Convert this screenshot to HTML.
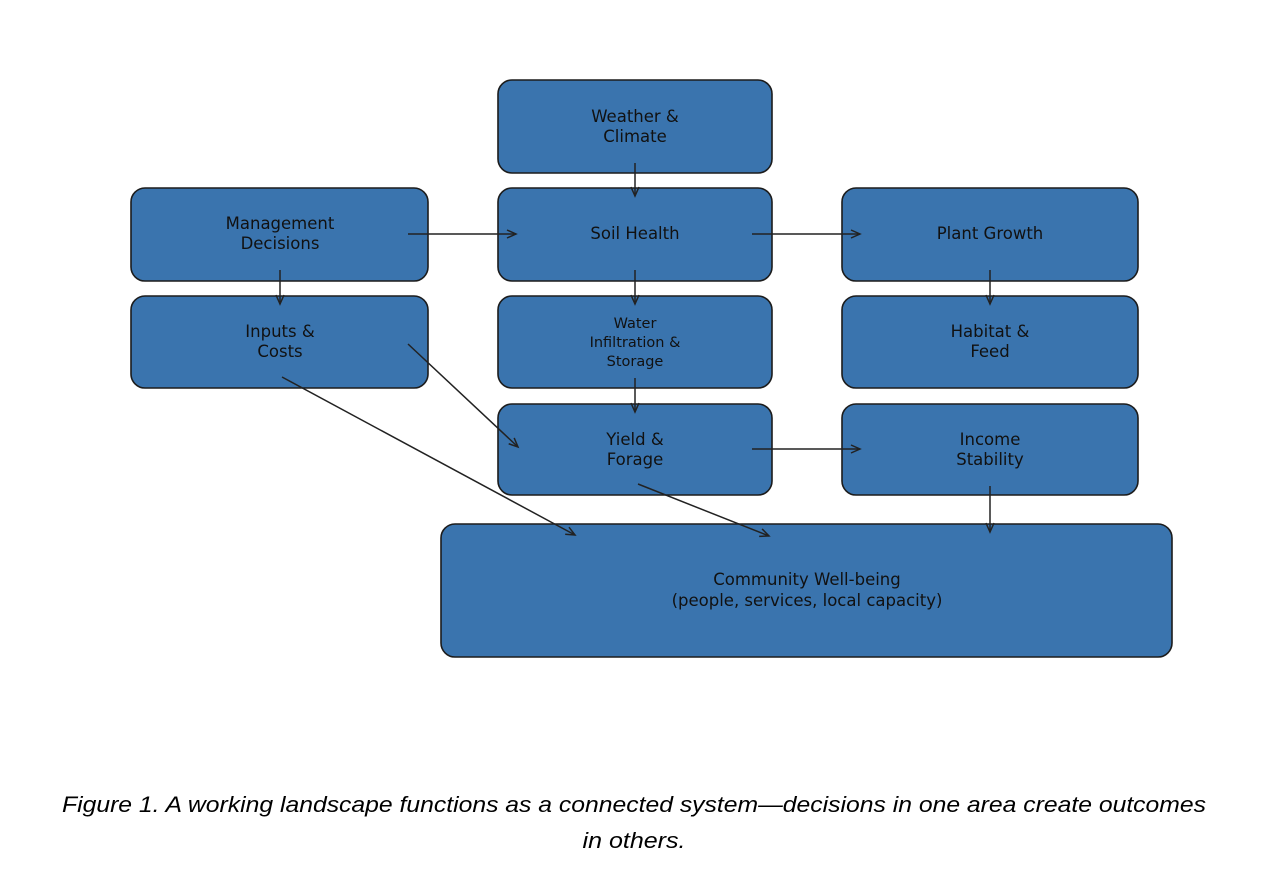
<!DOCTYPE html>
<html><head><meta charset="utf-8"><style>
html,body{margin:0;padding:0;background:#fff;width:1262px;height:894px;overflow:hidden}
svg{display:block}
.b{fill:#3a74ae;stroke:#1c1c1c;stroke-width:1.6}
.t{font-family:"DejaVu Sans",sans-serif;font-size:16.5px;fill:#111;text-anchor:middle}
.s{font-size:14.5px}
.a{stroke:#222;stroke-width:1.5;fill:none;marker-end:url(#m)}
.c{font-family:"Liberation Sans",sans-serif;font-style:italic;font-size:22px;fill:#000;text-anchor:middle}
</style></head><body>
<svg width="1262" height="894" xmlns="http://www.w3.org/2000/svg">
<defs><marker id="m" markerWidth="12" markerHeight="12" refX="10" refY="5" orient="auto" markerUnits="userSpaceOnUse"><path d="M1,1 L10,5 L1,9" fill="none" stroke="#222" stroke-width="1.5"/></marker></defs>
<rect class="b" x="498" y="80" width="274" height="93" rx="14"/>
<rect class="b" x="131" y="188" width="297" height="93" rx="14"/>
<rect class="b" x="498" y="188" width="274" height="93" rx="14"/>
<rect class="b" x="842" y="188" width="296" height="93" rx="14"/>
<rect class="b" x="131" y="296" width="297" height="92" rx="14"/>
<rect class="b" x="498" y="296" width="274" height="92" rx="14"/>
<rect class="b" x="842" y="296" width="296" height="92" rx="14"/>
<rect class="b" x="498" y="404" width="274" height="91" rx="14"/>
<rect class="b" x="842" y="404" width="296" height="91" rx="14"/>
<rect class="b" x="441" y="524" width="731" height="133" rx="14"/>
<text class="t" x="635" y="122">Weather &amp;</text><text class="t" x="635" y="142">Climate</text>
<text class="t" x="280" y="229">Management</text><text class="t" x="280" y="249">Decisions</text>
<text class="t" x="635" y="239">Soil Health</text>
<text class="t" x="990" y="239">Plant Growth</text>
<text class="t" x="280" y="337">Inputs &amp;</text><text class="t" x="280" y="357">Costs</text>
<text class="t s" x="635" y="328">Water</text><text class="t s" x="635" y="347">Infiltration &amp;</text><text class="t s" x="635" y="366">Storage</text>
<text class="t" x="990" y="337">Habitat &amp;</text><text class="t" x="990" y="357">Feed</text>
<text class="t" x="635" y="445">Yield &amp;</text><text class="t" x="635" y="465">Forage</text>
<text class="t" x="990" y="445">Income</text><text class="t" x="990" y="465">Stability</text>
<text class="t" x="807" y="585">Community Well-being</text><text class="t" x="807" y="606">(people, services, local capacity)</text>
<line class="a" x1="635" y1="163" x2="635" y2="196"/>
<line class="a" x1="408" y1="234" x2="516" y2="234"/>
<line class="a" x1="752" y1="234" x2="860" y2="234"/>
<line class="a" x1="280" y1="270" x2="280" y2="304"/>
<line class="a" x1="635" y1="270" x2="635" y2="304"/>
<line class="a" x1="990" y1="270" x2="990" y2="304"/>
<line class="a" x1="635" y1="378" x2="635" y2="412"/>
<line class="a" x1="408" y1="344" x2="518" y2="447"/>
<line class="a" x1="282" y1="377" x2="575" y2="535"/>
<line class="a" x1="638" y1="484" x2="769" y2="536"/>
<line class="a" x1="752" y1="449" x2="860" y2="449"/>
<line class="a" x1="990" y1="486" x2="990" y2="532"/>
<text class="c" x="634" y="812" textLength="1144" lengthAdjust="spacingAndGlyphs">Figure 1. A working landscape functions as a connected system—decisions in one area create outcomes</text>
<text class="c" x="634" y="848" textLength="103" lengthAdjust="spacingAndGlyphs">in others.</text>
</svg>
</body></html>
